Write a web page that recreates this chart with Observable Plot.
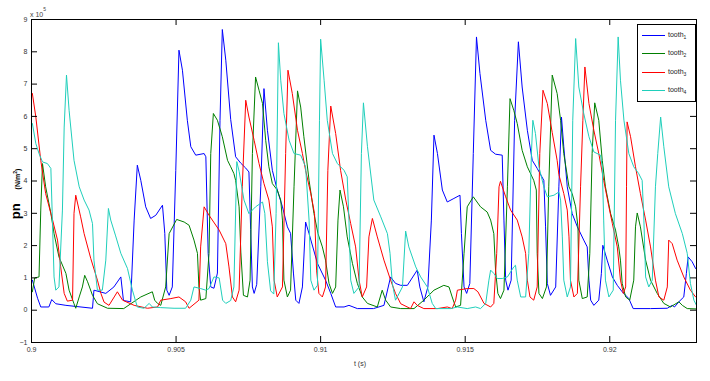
<!DOCTYPE html>
<html><head><meta charset="utf-8">
<script src="https://cdn.jsdelivr.net/npm/d3@7"></script>
<script src="https://cdn.jsdelivr.net/npm/@observablehq/plot@0.6"></script>
<style>
body{margin:0;background:#fff;}
#wrap{position:relative;width:710px;height:381px;font-family:"Liberation Sans",Arial,sans-serif;color:#333;overflow:hidden;}
#wrap svg{position:absolute;left:0;top:0;}
.abs{position:absolute;white-space:nowrap;}
#legend{position:absolute;left:637px;top:24px;width:59px;height:78px;box-sizing:border-box;border:1px solid #000;background:#fff;}
.sw{position:absolute;left:4px;width:23px;height:0;border-top:1px solid;}
.lt{position:absolute;left:30px;font-size:7px;color:#222;line-height:8px;}
.lt sub{font-size:5px;}
</style></head><body><div id="wrap"></div><script>
const xTicks=[0.9,0.905,0.91,0.915,0.92];
const xTickLabels=["0.9","0.905","0.91","0.915","0.92"];
const yTicks=[-1,0,1,2,3,4,5,6,7,8,9];
const seriesNames=["tooth1","tooth2","tooth3","tooth4"];
const seriesColors=["#0000ff","#007f00","#ff0000","#1fcfbb"];
// [t (s), p_n (x10^5 N/m^2)]
const tooth1=[[0.90003,0.93],[0.90021,0.37],[0.90032,0.1],[0.90060,0.1],[0.90070,0.33],[0.90084,0.2],[0.90119,0.15],[0.90211,0.06],[0.90216,0.62],[0.90257,0.52],
[0.90285,0.72],[0.90309,1.03],[0.90318,0.3],[0.90343,0.26],[0.90355,2.79],[0.90366,4.49],[0.90378,4.02],[0.90395,3.2],[0.90412,2.84],[0.90430,2.94],
[0.90453,3.25],[0.90461,2.38],[0.90468,0.62],[0.90476,0.46],[0.90487,0.72],[0.90499,4.33],[0.90510,8.05],[0.90522,7.43],[0.90539,5.88],[0.90551,5.06],
[0.90568,4.8],[0.90597,4.85],[0.90603,4.75],[0.90611,1.76],[0.90620,0.72],[0.90631,0.68],[0.90643,1.15],[0.90652,5.88],[0.90660,8.69],[0.90672,7.74],
[0.90689,5.9],[0.90706,4.75],[0.90724,4.55],[0.90741,4.4],[0.90752,4.28],[0.90758,2.5],[0.90764,0.72],[0.90770,0.52],[0.90779,0.8],[0.90793,3.82],
[0.90804,6.86],[0.90816,5.57],[0.90833,4.33],[0.90850,3.72],[0.90868,3.2],[0.90885,2.58],[0.90896,2.38],[0.90906,1.15],[0.90914,0.31],[0.90925,0.21],
[0.90937,0.72],[0.90948,2.73],[0.90960,2.37],[0.90989,1.45],[0.91017,0.93],[0.91035,0.52],[0.91052,0.1],[0.91081,0.1],[0.91098,0.15],[0.91127,0.05],
[0.91183,0.05],[0.91219,0.15],[0.91242,1.03],[0.91259,0.83],[0.91277,0.77],[0.91300,0.77],[0.91334,1.24],[0.91343,0.72],[0.91357,0.26],[0.91371,0.72],
[0.91383,2.79],[0.91392,5.42],[0.91404,4.85],[0.91421,3.72],[0.91438,3.35],[0.91461,3.46],[0.91482,3.56],[0.91487,2.37],[0.91496,0.72],[0.91505,0.52],
[0.91516,0.83],[0.91528,4.85],[0.91539,8.46],[0.91551,7.33],[0.91571,5.88],[0.91588,4.95],[0.91605,4.83],[0.91628,4.8],[0.91634,2.79],[0.91640,0.93],
[0.91648,0.62],[0.91659,0.93],[0.91671,5.88],[0.91684,8.31],[0.91697,6.91],[0.91715,5.57],[0.91732,4.64],[0.91749,4.39],[0.91772,4.02],[0.91778,2.58],
[0.91784,0.83],[0.91795,0.46],[0.91813,0.72],[0.91824,3.82],[0.91833,5.98],[0.91841,5.06],[0.91853,3.82],[0.91870,2.99],[0.91888,2.58],[0.91910,2.17],
[0.91922,1.96],[0.91928,0.93],[0.91934,0.31],[0.91945,0.15],[0.91962,0.31],[0.91971,1.14],[0.91976,2.01],[0.91991,1.55],[0.92009,1.03],[0.92026,0.77],
[0.92043,0.57],[0.92066,0.36],[0.92081,0.05],[0.92141,0.05],[0.92199,0.06],[0.92216,0.15],[0.92224,0.1],[0.92239,0.26],[0.92256,0.41],[0.92265,1.14],
[0.92271,1.65],[0.92285,1.5],[0.92297,1.29]];
const tooth2=[[0.90003,0.57],[0.90011,1.0],[0.90026,1.03],[0.90032,3.1],[0.90038,4.54],[0.90049,3.82],[0.90067,3.0],[0.90078,2.37],[0.90095,1.65],[0.90119,1.14],
[0.90130,0.62],[0.90147,0.2],[0.90153,0.06],[0.90165,0.41],[0.90176,0.72],[0.90184,1.08],[0.90194,0.88],[0.90211,0.46],[0.90228,0.2],[0.90263,0.06],
[0.90319,0.05],[0.90378,0.41],[0.90418,0.57],[0.90426,0.31],[0.90436,0.21],[0.90447,0.15],[0.90464,0.72],[0.90476,2.37],[0.90502,2.81],[0.90528,2.73],
[0.90545,2.63],[0.90562,2.17],[0.90574,1.76],[0.90579,0.72],[0.90585,0.31],[0.90603,0.36],[0.90614,1.76],[0.90620,4.85],[0.90629,6.09],[0.90643,5.88],
[0.90660,5.37],[0.90678,4.64],[0.90689,4.44],[0.90700,4.23],[0.90706,4.02],[0.90718,3.2],[0.90724,1.8],[0.90733,0.46],[0.90747,0.41],[0.90756,0.93],
[0.90764,4.85],[0.90775,7.22],[0.90787,6.81],[0.90799,6.4],[0.90810,5.26],[0.90821,4.44],[0.90833,3.92],[0.90850,3.72],[0.90862,3.41],[0.90868,2.79],
[0.90873,0.93],[0.90885,0.41],[0.90896,0.62],[0.90908,3.82],[0.90920,6.79],[0.90931,6.29],[0.90942,5.37],[0.90960,4.02],[0.90977,2.99],[0.90991,2.37],
[0.91006,1.96],[0.91017,1.55],[0.91029,0.83],[0.91041,0.52],[0.91052,0.72],[0.91060,2.79],[0.91067,3.72],[0.91079,3.2],[0.91092,2.27],[0.91110,1.45],
[0.91127,0.83],[0.91144,0.41],[0.91162,0.21],[0.91196,0.1],[0.91213,0.62],[0.91225,0.31],[0.91242,0.1],[0.91277,0.05],[0.91323,0.05],[0.91357,0.31],
[0.91392,0.62],[0.91426,0.77],[0.91444,0.72],[0.91455,0.41],[0.91467,0.1],[0.91484,0.15],[0.91496,1.76],[0.91507,3.2],[0.91528,3.51],[0.91553,3.2],
[0.91576,3.04],[0.91588,2.79],[0.91599,2.37],[0.91605,1.24],[0.91613,0.52],[0.91622,0.36],[0.91634,0.62],[0.91646,3.82],[0.91655,6.55],[0.91668,6.19],
[0.91680,5.78],[0.91697,4.95],[0.91715,4.44],[0.91737,4.02],[0.91746,3.72],[0.91749,1.76],[0.91755,0.52],[0.91767,0.36],[0.91781,0.72],[0.91789,3.82],
[0.91801,7.28],[0.91818,6.71],[0.91830,5.88],[0.91841,4.85],[0.91859,3.82],[0.91870,3.61],[0.91882,3.2],[0.91890,2.58],[0.91893,0.93],[0.91905,0.36],
[0.91922,0.41],[0.91931,1.76],[0.91939,4.85],[0.91948,6.42],[0.91962,5.88],[0.91974,4.64],[0.91985,3.82],[0.92003,2.99],[0.92020,2.48],[0.92031,1.96],
[0.92037,1.55],[0.92043,0.83],[0.92055,0.41],[0.92069,0.31],[0.92083,0.93],[0.92089,2.58],[0.92095,3.01],[0.92106,2.58],[0.92124,1.55],[0.92141,0.93],
[0.92164,0.52],[0.92187,0.21],[0.92210,0.1],[0.92239,0.26],[0.92251,0.15],[0.92268,0.05],[0.92297,0.04]];
const tooth3=[[0.90003,6.71],[0.90015,5.98],[0.90032,4.64],[0.90049,3.61],[0.90073,2.79],[0.90090,2.17],[0.90101,1.34],[0.90113,0.52],[0.90124,0.28],[0.90142,0.31],
[0.90147,3.0],[0.90153,3.56],[0.90170,2.89],[0.90182,2.37],[0.90205,1.6],[0.90228,0.93],[0.90240,0.52],[0.90251,0.25],[0.90268,0.15],[0.90286,0.41],
[0.90297,0.57],[0.90315,0.31],[0.90355,0.15],[0.90401,0.06],[0.90436,0.1],[0.90447,0.31],[0.90482,0.36],[0.90510,0.41],[0.90533,0.26],[0.90545,0.06],
[0.90579,0.31],[0.90585,1.96],[0.90597,3.2],[0.90614,2.94],[0.90649,2.48],[0.90672,2.06],[0.90683,1.34],[0.90695,0.41],[0.90706,0.26],[0.90718,0.62],
[0.90729,3.82],[0.90741,6.5],[0.90752,5.98],[0.90770,5.26],[0.90787,4.54],[0.90804,3.92],[0.90821,3.41],[0.90833,2.58],[0.90839,0.93],[0.90850,0.41],
[0.90868,0.72],[0.90879,4.85],[0.90887,7.43],[0.90902,6.71],[0.90920,5.57],[0.90937,4.85],[0.90948,4.33],[0.90966,3.61],[0.90979,2.99],[0.90986,1.24],
[0.90994,0.52],[0.91006,0.41],[0.91017,0.72],[0.91025,4.33],[0.91035,6.32],[0.91052,5.47],[0.91069,4.33],[0.91087,3.41],[0.91104,2.68],[0.91121,1.96],
[0.91133,0.93],[0.91144,0.41],[0.91159,0.72],[0.91167,2.27],[0.91179,2.84],[0.91196,2.27],[0.91219,1.55],[0.91242,0.93],[0.91259,0.52],[0.91277,0.2],
[0.91311,0.05],[0.91323,0.26],[0.91334,0.15],[0.91357,0.05],[0.91404,0.05],[0.91438,0.1],[0.91455,0.05],[0.91467,0.31],[0.91473,0.62],[0.91507,0.67],
[0.91530,0.67],[0.91544,0.57],[0.91565,0.21],[0.91588,0.1],[0.91599,0.21],[0.91609,1.76],[0.91617,3.82],[0.91622,3.99],[0.91640,3.51],[0.91657,3.1],
[0.91680,2.79],[0.91697,2.27],[0.91709,1.76],[0.91715,0.93],[0.91724,0.41],[0.91737,0.31],[0.91749,0.72],[0.91758,4.85],[0.91769,6.81],[0.91784,6.4],
[0.91801,5.5],[0.91818,4.64],[0.91824,4.2],[0.91841,3.61],[0.91853,3.1],[0.91859,2.27],[0.91864,0.93],[0.91876,0.41],[0.91888,0.52],[0.91899,3.82],
[0.91907,5.88],[0.91914,7.53],[0.91928,6.4],[0.91945,5.57],[0.91962,4.85],[0.91979,4.02],[0.91997,3.2],[0.92009,2.68],[0.92026,1.96],[0.92037,0.93],
[0.92047,0.52],[0.92055,0.72],[0.92058,3.82],[0.92060,5.83],[0.92072,5.37],[0.92089,4.44],[0.92106,3.61],[0.92124,2.79],[0.92141,1.96],[0.92158,0.93],
[0.92170,0.41],[0.92187,0.31],[0.92199,0.72],[0.92204,2.17],[0.92216,2.06],[0.92233,1.55],[0.92256,1.03],[0.92279,0.62],[0.92297,0.41]];
const tooth4=[[0.90003,5.78],[0.90015,5.16],[0.90026,4.85],[0.90038,4.59],[0.90055,4.54],[0.90067,4.39],[0.90073,2.58],[0.90078,1.03],[0.90084,0.62],[0.90095,0.72],
[0.90107,3.1],[0.90113,5.67],[0.90121,7.28],[0.90130,6.19],[0.90147,4.64],[0.90165,3.82],[0.90182,3.41],[0.90199,3.1],[0.90211,2.68],[0.90216,1.55],
[0.90228,0.62],[0.90245,0.62],[0.90257,1.55],[0.90266,3.15],[0.90274,2.79],[0.90291,2.3],[0.90309,1.76],[0.90332,1.29],[0.90349,0.62],[0.90366,0.1],
[0.90389,0.06],[0.90407,0.21],[0.90418,0.1],[0.90447,0.08],[0.90493,0.06],[0.90533,0.06],[0.90551,0.31],[0.90562,0.72],[0.90585,0.67],[0.90603,0.62],
[0.90614,0.67],[0.90631,1.03],[0.90649,1.0],[0.90661,0.31],[0.90672,0.21],[0.90689,0.3],[0.90700,0.72],[0.90710,4.6],[0.90718,4.3],[0.90735,3.41],
[0.90752,2.99],[0.90775,3.2],[0.90799,3.35],[0.90807,3.0],[0.90816,1.5],[0.90827,0.6],[0.90838,0.5],[0.90846,3.0],[0.90854,8.28],[0.90862,7.12],
[0.90873,6.09],[0.90891,5.26],[0.90908,4.85],[0.90931,4.8],[0.90948,4.44],[0.90960,2.79],[0.90966,0.93],[0.90977,0.62],[0.90989,0.77],[0.90996,5.88],
[0.91000,8.39],[0.91012,7.12],[0.91023,5.88],[0.91041,4.85],[0.91058,4.54],[0.91081,4.33],[0.91092,4.13],[0.91098,2.79],[0.91104,0.93],[0.91115,0.52],
[0.91133,0.72],[0.91141,4.85],[0.91148,6.42],[0.91162,5.06],[0.91184,3.41],[0.91208,2.89],[0.91231,2.37],[0.91240,1.76],[0.91248,0.83],[0.91259,0.31],
[0.91265,0.41],[0.91283,0.72],[0.91294,2.45],[0.91305,1.96],[0.91329,1.34],[0.91346,1.03],[0.91369,0.72],[0.91386,0.21],[0.91398,0.05],[0.91450,0.05],
[0.91473,0.1],[0.91507,0.05],[0.91536,0.1],[0.91553,0.05],[0.91571,0.21],[0.91582,0.93],[0.91588,1.24],[0.91599,1.14],[0.91611,0.98],[0.91628,0.98],
[0.91646,1.03],[0.91668,1.34],[0.91674,1.39],[0.91680,0.93],[0.91692,0.41],[0.91709,0.41],[0.91720,1.76],[0.91729,4.85],[0.91734,5.88],[0.91743,5.47],
[0.91755,4.44],[0.91772,3.82],[0.91784,3.51],[0.91807,3.56],[0.91824,3.66],[0.91830,3.41],[0.91836,2.27],[0.91841,0.93],[0.91853,0.41],[0.91864,0.72],
[0.91872,5.88],[0.91882,8.41],[0.91893,6.91],[0.91910,6.09],[0.91928,5.37],[0.91945,4.9],[0.91968,4.8],[0.91974,4.44],[0.91979,2.79],[0.91985,0.93],
[0.91997,0.41],[0.92012,0.62],[0.92020,5.88],[0.92029,8.46],[0.92037,7.12],[0.92049,5.88],[0.92066,4.85],[0.92083,4.44],[0.92100,4.23],[0.92112,4.02],
[0.92118,2.79],[0.92124,1.03],[0.92135,0.72],[0.92147,0.93],[0.92158,3.82],[0.92166,4.85],[0.92176,5.98],[0.92187,5.06],[0.92204,3.82],[0.92227,2.99],
[0.92251,2.37],[0.92268,1.76],[0.92279,0.83],[0.92291,0.31],[0.92300,0.15]];

const seriesData=[tooth1,tooth2,tooth3,tooth4];
const rows=seriesData.flatMap((arr,i)=>arr.map(([t,p])=>({t,p,series:seriesNames[i]})));

const W=710,H=381,mL=31,mR=14,mT=19,mB=39;
const plotW=W-mL-mR, plotH=H-mT-mB, tl=6;

const chart=Plot.plot({
  width:W,height:H,marginLeft:mL,marginRight:mR,marginTop:mT,marginBottom:mB,
  style:{fontFamily:"'Liberation Sans',Arial,sans-serif",fontSize:"7px",color:"#333",background:"transparent",overflow:"visible"},
  x:{domain:[0.9,0.923]},
  y:{domain:[-1,9]},
  color:{domain:seriesNames,range:seriesColors},
  marks:[
    Plot.line(rows,{x:"t",y:"p",z:"series",stroke:"series",strokeWidth:1,clip:true}),
    Plot.tickX(xTicks,{x:d=>d,insetTop:plotH-tl,stroke:"#000"}),
    Plot.tickX(xTicks,{x:d=>d,insetBottom:plotH-tl,stroke:"#000"}),
    Plot.tickY(yTicks,{y:d=>d,insetRight:plotW-tl,stroke:"#000"}),
    Plot.tickY(yTicks,{y:d=>d,insetLeft:plotW-tl,stroke:"#000"}),
    Plot.frame({stroke:"#000"}),
    Plot.axisX({ticks:xTicks,tickFormat:(d,i)=>xTickLabels[xTicks.indexOf(d)],tickSize:0,tickPadding:5,label:null}),
    Plot.axisY({ticks:yTicks,tickSize:0,tickPadding:4,label:null})
  ]
});
const wrap=document.getElementById("wrap");
wrap.appendChild(chart);

// exponent
const ex=document.createElement("div");
ex.className="abs";ex.style.cssText="left:30px;top:6px;font-size:7px;color:#444;";
ex.innerHTML='x 10<sup style="font-size:5px;vertical-align:6px;">5</sup>';
wrap.appendChild(ex);
// y label
const yl=document.createElement("div");
yl.className="abs";
yl.style.cssText="left:15px;top:194px;transform:translate(-50%,-50%) rotate(-90deg);font-weight:bold;color:#000;";
yl.innerHTML='<span style="font-size:13px;">pn</span><span style="display:inline-block;width:14px;"></span><span style="font-size:7px;">(N/m<sup style="font-size:5px;">2</sup>)</span>';
wrap.appendChild(yl);
// x label
const xl=document.createElement("div");
xl.className="abs";xl.style.cssText="left:360px;top:363px;transform:translate(-50%,-50%);font-size:7px;color:#333;";
xl.textContent="t (s)";
wrap.appendChild(xl);
// legend
const lg=document.createElement("div");lg.id="legend";
const rowY=[10,28,46.5,65];
seriesNames.forEach((n,i)=>{
  const sw=document.createElement("div");sw.className="sw";sw.style.top=rowY[i]+"px";sw.style.borderTopColor=seriesColors[i];lg.appendChild(sw);
  const tx=document.createElement("div");tx.className="lt";tx.style.top=(rowY[i]-4)+"px";
  tx.innerHTML="tooth<sub>"+(i+1)+"</sub>";lg.appendChild(tx);
});
wrap.appendChild(lg);
</script></body></html>
